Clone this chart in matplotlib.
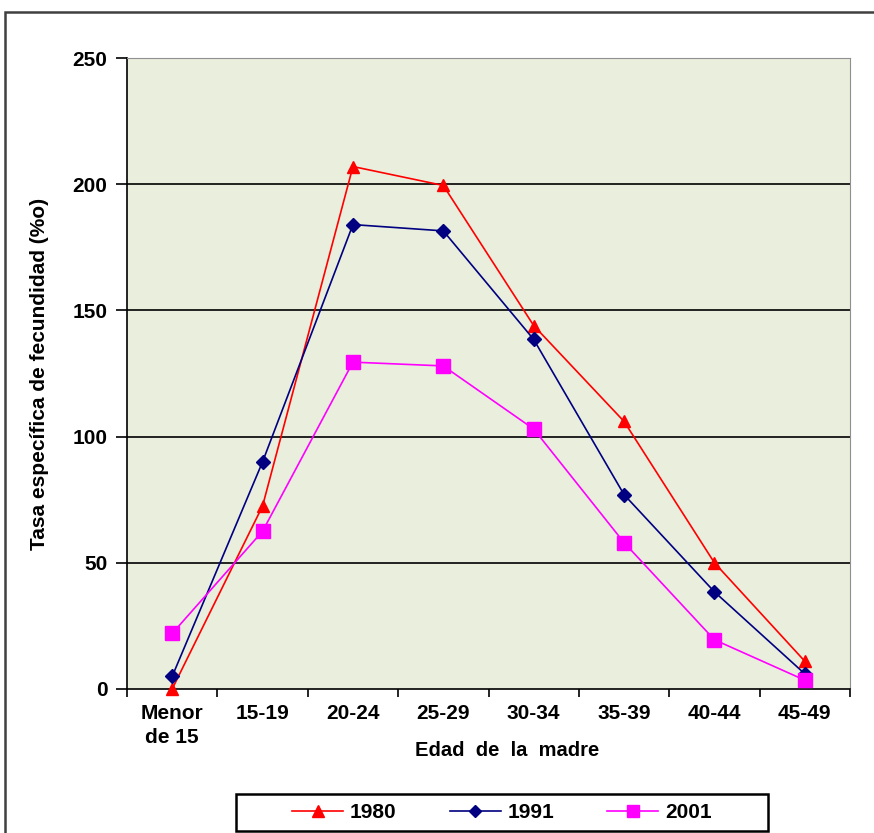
import numpy as np
import matplotlib.pyplot as plt
from matplotlib.patches import Rectangle

# -----------------------------
# Data
# -----------------------------
grupos = ["Menor\nde 15", "15-19", "20-24", "25-29", "30-34", "35-39", "40-44", "45-49"]
tasa_1980 = [0.0, 72.5, 207.0, 199.5, 144.0, 106.0, 50.0, 11.0]
tasa_1991 = [5.0, 90.0, 184.0, 181.5, 138.5, 77.0, 38.5, 6.0]
tasa_2001 = [22.0, 62.5, 129.5, 128.0, 103.0, 58.0, 19.5, 3.5]

plt.rcParams["font.family"] = ["Liberation Sans", "DejaVu Sans"]
plt.rcParams["font.weight"] = "bold"

W, H = 874, 833
fig = plt.figure(figsize=(W / 100, H / 100), dpi=100)
ax = fig.add_axes([127 / W, 1 - 689 / H, (850 - 127) / W, (689 - 58) / H])

# outer frame of the figure (right and bottom edges fall outside the image)
fig.patches.append(Rectangle((5 / W, -0.05), 1.1, 1 - 12 / H + 0.05,
                             transform=fig.transFigure, fill=False,
                             edgecolor="#404040", linewidth=1.8))

x = np.arange(len(grupos))
ax.set_facecolor("#EAEEDD")
ax.plot(x, tasa_1980, color="#FF0000", marker="^", markersize=9, linewidth=1.2,
        label="1980", zorder=3, clip_on=False)
ax.plot(x, tasa_1991, color="#000080", marker="D", markersize=7, linewidth=1.2,
        label="1991", zorder=3, clip_on=False)
ax.plot(x, tasa_2001, color="#FF00FF", marker="s", markersize=10, linewidth=1.2,
        label="2001", zorder=3, clip_on=False)

ax.set_xlim(-0.5, len(grupos) - 0.5)
ax.set_ylim(0, 250)
ax.set_yticks([0, 50, 100, 150, 200, 250])
for yv in [50, 100, 150, 200]:
    ax.axhline(yv, color="black", linewidth=1.2, zorder=1)

ax.set_xticks(x)
ax.set_xticklabels(grupos, fontweight="bold", fontsize=15, linespacing=1.3)
ax.set_xticks(np.arange(-0.5, len(grupos)), minor=True)
ax.tick_params(axis="x", which="major", length=0, pad=11)
ax.tick_params(axis="x", which="minor", length=6, width=1.2, direction="out")
ax.tick_params(axis="y", length=8, width=1.2, direction="out", pad=6, labelsize=15)

ax.spines["left"].set_color("black")
ax.spines["bottom"].set_color("black")
ax.spines["left"].set_linewidth(1.2)
ax.spines["bottom"].set_linewidth(1.2)
ax.spines["top"].set_color("#909090")
ax.spines["right"].set_color("#909090")

ax.set_xlabel("Edad  de  la  madre", fontsize=14.5, fontweight="bold")
ax.xaxis.set_label_coords(0.526, -0.082)
ax.set_ylabel("Tasa específica de fecundidad (%o)", fontsize=15, fontweight="bold", labelpad=17)

# legend: box drawn by hand, entries placed inside it
fig.patches.append(Rectangle((236 / W, 1 - 831 / H), (768 - 236) / W, (831 - 794) / H,
                             transform=fig.transFigure, fill=False,
                             edgecolor="black", linewidth=1.8))
fig.legend(loc="center left", bbox_to_anchor=(292 / W, 1 - 813 / H), ncol=3,
           prop={"weight": "bold", "size": 15}, frameon=False,
           handlelength=2.45, handletextpad=0.33, columnspacing=2.55,
           borderpad=0, borderaxespad=0, markerscale=0.9)

plt.savefig("out.png", dpi=100)
